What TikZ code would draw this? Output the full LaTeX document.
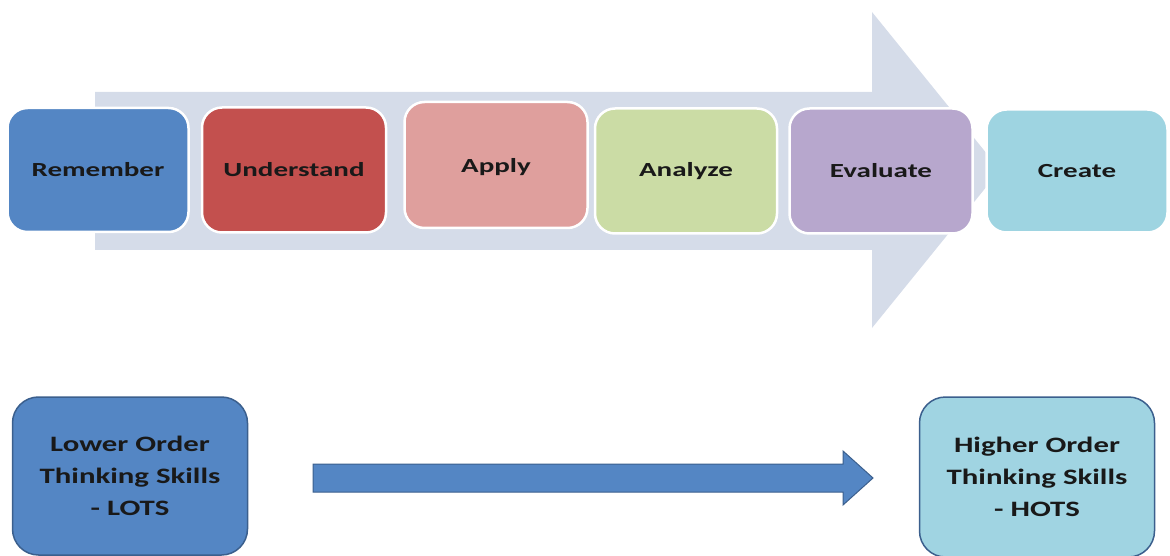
\documentclass[tikz,border=0pt]{standalone}
\usepackage{fontspec}
\setmainfont{Carlito}
\newfontfamily\topfont[FakeStretch=1.45]{Carlito}
\newfontfamily\botfont[FakeStretch=1.4]{Carlito}
\definecolor{arrowbg}{HTML}{D5DCE9}
\definecolor{cRem}{HTML}{5486C4}
\definecolor{cUnd}{HTML}{C3504E}
\definecolor{cApp}{HTML}{DF9F9D}
\definecolor{cAna}{HTML}{CBDCA5}
\definecolor{cEva}{HTML}{B7A7CD}
\definecolor{cCre}{HTML}{9ED4E1}
\definecolor{bBlue}{HTML}{5486C4}
\definecolor{bLine}{HTML}{3B5F8D}
\definecolor{hFill}{HTML}{A0D4E2}
\begin{document}
\begin{tikzpicture}[x=1pt,y=-1pt,
  stage/.style={draw=white, line width=2.5pt, rounded corners=20pt, minimum width=#1, text=black!90,
    font=\topfont\bfseries\fontsize{20}{23}\selectfont, inner sep=0pt},
  order/.style={draw=bLine, line width=1.5pt, rounded corners=26pt, align=center, text=black!90,
    font=\botfont\bfseries\fontsize{22}{32}\selectfont, inner sep=0pt}]
\useasboundingbox (0,0) rectangle (1170,556);
% big background arrow
\fill[arrowbg] (95,92) -- (872,92) -- (872,12) -- (1000,170) -- (872,328) -- (872,250) -- (95,250) -- cycle;
% stages
\node[stage, fill=cRem, minimum width=181pt, minimum height=124pt] (rem) at (98,170) {Remember};
\node[stage, fill=cUnd, minimum width=184pt, minimum height=125pt] (und) at (294,170) {Understand};
\node[stage, fill=cApp, minimum width=183pt, minimum height=126pt] (app) at (496,165) {};
\node[font=\topfont\bfseries\fontsize{20}{23}\selectfont, text=black!90] (appt) at (496,167) {Apply};
\node[stage, fill=cAna, minimum width=182pt, minimum height=125pt] (ana) at (686,171) {Analyze};
\node[stage, fill=cEva, minimum width=183pt, minimum height=125pt] (eva) at (881,171) {Evaluate};
\node[stage, fill=cCre, minimum width=181pt, minimum height=123pt] (cre) at (1077,171) {Create};
% bottom boxes
\node[order, fill=bBlue, minimum width=235pt, minimum height=158pt] (lots) at (130,476) {Lower Order\\Thinking Skills\\- LOTS};
\node[order, fill=hFill, minimum width=235pt, minimum height=160pt] (hots) at (1037,477) {Higher Order\\Thinking Skills\\- HOTS};
% bottom arrow
\coordinate (as) at (313,478);
\coordinate (at) at (873,478);
\filldraw[fill=bBlue, draw=bLine, line width=1pt] (as) ++(0,-14) -- (843,464) -- (843,451) -- (at) -- (843,505) -- (843,492) -- (313,492) -- cycle;
\end{tikzpicture}
\end{document}
